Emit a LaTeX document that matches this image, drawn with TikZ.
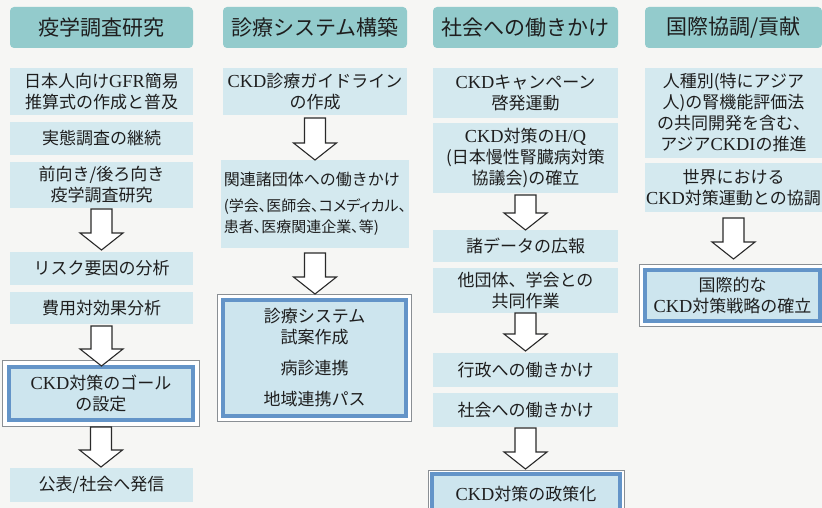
\documentclass[tikz,border=0pt]{standalone}
\usepackage{fontspec}
\setmainfont{Liberation Serif}[Scale=1.08]
\newfontfamily\jp{Noto Sans CJK JP}
\newfontfamily\jpp{Noto Sans CJK JP}[RawFeature=+palt]
\usetikzlibrary{calc,backgrounds}
\newcommand\lat[1]{{\rmfamily #1}}
\newcommand\smallpalt{\jpp\fontsize{15}{20}\selectfont}
\definecolor{bgcol}{HTML}{F6F6F4}
\definecolor{headfill}{HTML}{93CBCC}
\definecolor{itemfill}{HTML}{D4E9EF}
\definecolor{hlfill}{HTML}{CDE5EE}
\definecolor{hlborder}{HTML}{6394C8}
\definecolor{framecol}{HTML}{8A8F94}
\definecolor{textcol}{HTML}{1E1E1E}
\definecolor{arrowcol}{HTML}{2A2A2A}
\newcommand\frameit[2]{%
  \begin{pgfonlayer}{background}
    \draw[framebox] ($(#1.north west)+(-#2,-#2)$) rectangle ($(#1.south east)+(#2,#2)$);
  \end{pgfonlayer}}
\newcommand\blockarr[4]{%
  \draw[blockarrow] let \p1=($(#1.south)+(0,#3)$), \p2=($(#2.north)+(0,-#4)$) in
    (\x1-10.5pt,\y1) -- (\x1+10.5pt,\y1) -- (\x1+10.5pt,\y2+17pt) -- (\x1+21.5pt,\y2+17pt)
    -- (\x1,\y2) -- (\x1-21.5pt,\y2+17pt) -- (\x1-10.5pt,\y2+17pt) -- cycle;}
\begin{document}
\begin{tikzpicture}[x=1pt,y=-1pt,
  head/.style={fill=headfill, rounded corners=4pt, minimum height=41pt, inner sep=0pt, outer sep=0pt,
    font=\jp\fontsize{21}{24}\selectfont, text=textcol},
  item/.style={fill=itemfill, inner sep=0pt, outer sep=0pt, align=center,
    font=\jp\fontsize{17}{21}\selectfont, text=textcol},
  hl/.style={draw=hlborder, line width=3.5pt, fill=hlfill, inner sep=0pt, outer sep=0pt, align=center,
    font=\jp\fontsize{17}{21}\selectfont, text=textcol},
  framebox/.style={draw=framecol, line width=0.6pt, fill=white},
  blockarrow/.style={draw=arrowcol, line width=1.1pt, fill=white, line join=miter}]
\useasboundingbox (0,0) rectangle (822,508);
\clip (0,0) rectangle (822,508);
\begin{pgfonlayer}{background}
  \fill[bgcol] (0,0) rectangle (822,508);
\end{pgfonlayer}
% column 1
\node[head, minimum width=183pt] (h1) at (101.5,27.5) {疫学調査研究};
\node[item, minimum width=183pt, minimum height=47pt] (a1) at (101.5,91.5) {日本人向け\lat{GFR}簡易\\推算式の作成と普及};
\node[item, minimum width=183pt, minimum height=33pt] (a2) at (101.5,138.5) {実態調査の継続};
\node[item, minimum width=183pt, minimum height=46pt] (a3) at (101.5,185) {前向き/後ろ向き\\疫学調査研究};
\node[item, minimum width=183pt, minimum height=33pt] (a4) at (101.5,268.5) {リスク要因の分析};
\node[item, minimum width=183pt, minimum height=32pt] (a5) at (101.5,308) {費用対効果分析};
\node[hl, minimum width=184pt, minimum height=53pt] (a6) at (101,393.5) {\lat{CKD}対策のゴール\\の設定};
\node[item, minimum width=183pt, minimum height=34pt] (a7) at (101.5,485) {公表/社会へ発信};
% column 2
\node[head, minimum width=184pt] (h2) at (315,27.5) {診療システム構築};
\node[item, minimum width=184pt, minimum height=88pt, align=left, inner xsep=3pt] (b2) at (315,204)
  {\fontsize{16}{20}\selectfont 関連諸団体への働きかけ\\[5pt]\smallpalt (学会、医師会、コメディカル、\\\smallpalt 患者、医療関連企業、等)};
\node[item, minimum width=184pt, minimum height=47pt] (b1) at (315,91.5) {\lat{CKD}診療ガイドライン\\の作成};
\node[hl, minimum width=183pt, minimum height=116pt] (b3) at (314.5,358) {診療システム\\試案作成\\[10pt]病診連携\\[10pt]地域連携パス};
% column 3
\node[head, minimum width=185pt] (h3) at (525.5,27.5) {社会への働きかけ};
\node[item, minimum width=185pt, minimum height=50pt] (c1) at (525.5,93) {\lat{CKD}キャンペーン\\啓発運動};
\node[item, minimum width=185pt, minimum height=70pt] (c2) at (525.5,158) {\lat{CKD}対策の\lat{H/Q}\\(日本慢性腎臓病対策\\協議会)の確立};
\node[item, minimum width=185pt, minimum height=32pt] (c3) at (525.5,246) {諸データの広報};
\node[item, minimum width=185pt, minimum height=45pt] (c4) at (525.5,290.5) {他団体、学会との\\共同作業};
\node[item, minimum width=185pt, minimum height=34pt] (c5) at (525.5,370) {行政への働きかけ};
\node[item, minimum width=185pt, minimum height=34pt] (c6) at (525.5,410) {社会への働きかけ};
\node[hl, minimum width=188pt, minimum height=40pt] (c7) at (526,494) {\lat{CKD}対策の政策化};
% column 4
\node[head, minimum width=177pt] (h4) at (733.5,27.5) {国際協調/貢献};
\node[item, minimum width=177pt, minimum height=90pt] (d1) at (733.5,113) {人種別(特にアジア\\人)の腎機能評価法\\の共同開発を含む、\\アジア\lat{CKDI}の推進};
\node[item, minimum width=177pt, minimum height=49pt] (d2) at (733.5,187.5) {世界における\\\lat{CKD}対策運動との協調};
\node[hl, minimum width=175pt, minimum height=51pt] (d3) at (732.5,295.5) {国際的な\\\lat{CKD}対策戦略の確立};
% outer frames
\frameit{a6}{6.5}
\frameit{b3}{5.5}
\frameit{c7}{4}
\frameit{d3}{5.5}
% arrows
\blockarr{a3}{a4}{1}{2}
\blockarr{a5}{a6}{2}{1}
\blockarr{a6}{a7}{7}{1}
\blockarr{b1}{b2}{3}{0}
\blockarr{b2}{b3}{5}{6}
\blockarr{c2}{c3}{2}{0}
\blockarr{c4}{c5}{0}{2}
\blockarr{c6}{c7}{1}{5}
\blockarr{d2}{d3}{6}{11}
\end{tikzpicture}
\end{document}
